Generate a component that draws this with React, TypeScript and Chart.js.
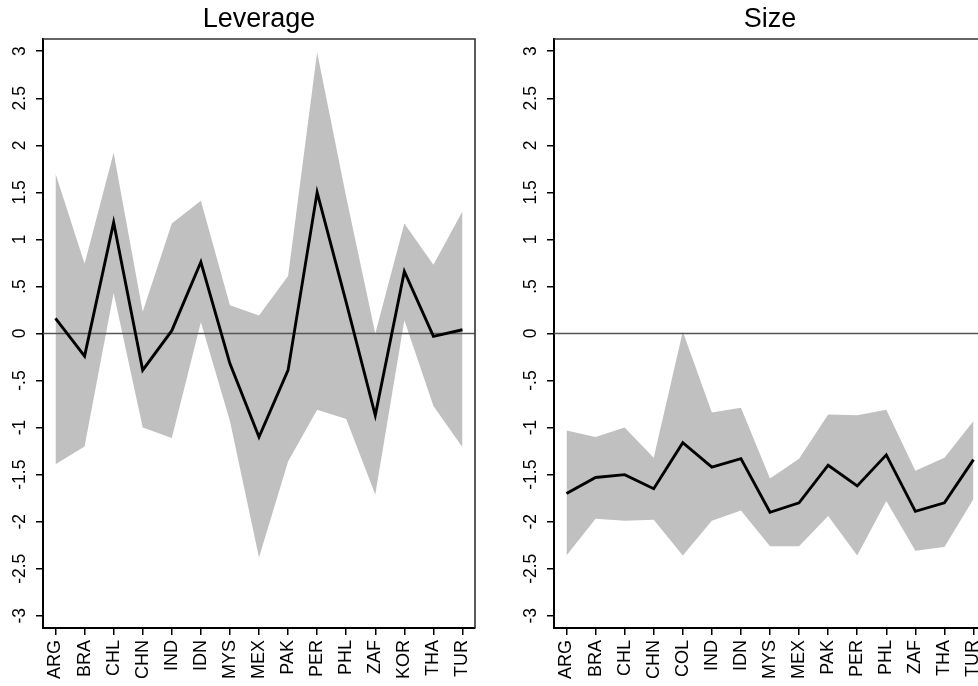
import React, { useEffect, useRef } from "react";
import { Chart, registerables } from "chart.js";

Chart.register(...registerables);

// ---------- data ----------
const levCountries = ["ARG", "BRA", "CHL", "CHN", "IND", "IDN", "MYS", "MEX", "PAK", "PER", "PHL", "ZAF", "KOR", "THA", "TUR"];
const levLine = [0.16, -0.24, 1.18, -0.39, 0.03, 0.76, -0.32, -1.1, -0.39, 1.5, 0.33, -0.87, 0.66, -0.03, 0.04];
const levUpper = [1.7, 0.74, 1.92, 0.23, 1.17, 1.41, 0.3, 0.19, 0.61, 2.99, 1.45, 0.0, 1.17, 0.73, 1.3];
const levLower = [-1.39, -1.2, 0.43, -1.0, -1.11, 0.12, -0.93, -2.38, -1.36, -0.81, -0.91, -1.71, 0.14, -0.77, -1.21];

const sizeCountries = ["ARG", "BRA", "CHL", "CHN", "COL", "IND", "IDN", "MYS", "MEX", "PAK", "PER", "PHL", "ZAF", "THA", "TUR"];
const sizeLine = [-1.7, -1.53, -1.5, -1.65, -1.16, -1.42, -1.33, -1.9, -1.8, -1.4, -1.62, -1.29, -1.89, -1.8, -1.34];
const sizeUpper = [-1.03, -1.1, -1.0, -1.32, 0.02, -0.84, -0.79, -1.54, -1.33, -0.86, -0.87, -0.81, -1.46, -1.32, -0.93];
const sizeLower = [-2.36, -1.97, -1.99, -1.98, -2.36, -1.99, -1.88, -2.26, -2.26, -1.94, -2.36, -1.78, -2.31, -2.27, -1.76];

const yTickValues = [-3, -2.5, -2, -1.5, -1, -0.5, 0, 0.5, 1, 1.5, 2, 2.5, 3];

const FONT = '"Liberation Sans", Arial, Helvetica, sans-serif';

function fmtY(v: number): string {
  if (v === 0) return "0";
  return String(v).replace(/^(-?)0\./, "$1.");
}

const framePlugin = {
  id: "stataFrame",
  beforeDatasetDraw(chart: any, args: any) {
    if (args.index !== 2) return;
    const { ctx, chartArea, scales } = chart;
    const y0 = scales.y.getPixelForValue(0);
    ctx.save();
    ctx.strokeStyle = "#555555";
    ctx.lineWidth = 1.6;
    ctx.beginPath();
    ctx.moveTo(chartArea.left, y0);
    ctx.lineTo(chartArea.right, y0);
    ctx.stroke();
    ctx.restore();
  },
  afterDraw(chart: any) {
    const { ctx, chartArea: a } = chart;
    ctx.save();
    ctx.strokeStyle = "#333333";
    ctx.lineWidth = 1.6;
    ctx.beginPath();
    ctx.moveTo(a.left, a.top);
    ctx.lineTo(a.right, a.top);
    ctx.lineTo(a.right, a.bottom);
    ctx.stroke();
    ctx.restore();
  },
};

function makeConfig(title: string, cats: string[], line: number[], upper: number[], lower: number[]): any {
  const idx = cats.map((_, i) => i);
  const pts = (arr: number[]) => arr.map((v, i) => ({ x: i, y: v }));
  return {
    type: "line",
    data: {
      datasets: [
        {
          data: pts(upper),
          order: 2,
          borderWidth: 0,
          borderColor: "rgba(0,0,0,0)",
          backgroundColor: "rgb(192,192,192)",
          fill: "+1",
          pointRadius: 0,
          tension: 0,
        },
        {
          data: pts(lower),
          order: 1,
          borderWidth: 0,
          borderColor: "rgba(0,0,0,0)",
          backgroundColor: "rgb(192,192,192)",
          fill: false,
          pointRadius: 0,
          tension: 0,
        },
        {
          data: pts(line),
          order: 0,
          borderColor: "#000000",
          borderWidth: 2.9,
          borderJoinStyle: "miter",
          fill: false,
          pointRadius: 0,
          tension: 0,
        },
      ],
    },
    options: {
      animation: false,
      responsive: false,
      maintainAspectRatio: false,
      events: [],
      layout: { padding: { left: 0, right: 15, top: 0, bottom: 0 } },
      plugins: {
        legend: { display: false },
        tooltip: { enabled: false },
        title: {
          display: true,
          text: title,
          fullSize: false,
          color: "#000000",
          font: { family: FONT, size: 27, weight: "normal", lineHeight: 1.2 },
          padding: { top: 3.5, bottom: 3.1 },
        },
      },
      scales: {
        x: {
          type: "linear",
          min: -0.43,
          max: 14.43,
          afterBuildTicks: (s: any) => {
            s.ticks = idx.map((v) => ({ value: v }));
          },
          afterFit: (s: any) => {
            s.height = 58;
          },
          ticks: {
            autoSkip: false,
            minRotation: 90,
            maxRotation: 90,
            padding: 5,
            color: "#000000",
            font: { family: FONT, size: 18 },
            callback: (v: number) => cats[Math.round(v)],
          },
          grid: {
            display: true,
            drawOnChartArea: false,
            drawTicks: true,
            tickLength: 7,
            color: "#000000",
            lineWidth: 1.5,
          },
          border: { display: true, color: "#000000", width: 2 },
        },
        y: {
          type: "linear",
          min: -3.13,
          max: 3.13,
          afterBuildTicks: (s: any) => {
            s.ticks = yTickValues.map((v) => ({ value: v }));
          },
          afterFit: (s: any) => {
            s.width = 43;
          },
          ticks: {
            autoSkip: false,
            minRotation: 90,
            maxRotation: 90,
            crossAlign: "center",
            padding: 1,
            color: "#000000",
            font: { family: FONT, size: 17.5 },
            callback: (v: number) => fmtY(v),
          },
          grid: {
            display: true,
            drawOnChartArea: false,
            drawTicks: true,
            tickLength: 7,
            color: "#000000",
            lineWidth: 1.5,
          },
          border: { display: true, color: "#000000", width: 2 },
        },
      },
    },
    plugins: [framePlugin],
  };
}

function Panel(props: { left: number; title: string; cats: string[]; line: number[]; upper: number[]; lower: number[] }) {
  const ref = useRef<HTMLCanvasElement | null>(null);
  useEffect(() => {
    if (!ref.current) return;
    const chart = new Chart(ref.current, makeConfig(props.title, props.cats, props.line, props.upper, props.lower));
    return () => chart.destroy();
  }, []);
  return (
    <div style={{ position: "absolute", left: props.left, top: 0, width: 490, height: 686 }}>
      <canvas ref={ref} width={490} height={686} style={{ display: "block", width: 490, height: 686 }} />
    </div>
  );
}

export default function App() {
  return (
    <div
      style={{
        position: "fixed",
        left: 0,
        top: 0,
        width: 978,
        height: 686,
        overflow: "hidden",
        background: "#ffffff",
      }}
    >
      <Panel left={0} title="Leverage" cats={levCountries} line={levLine} upper={levUpper} lower={levLower} />
      <Panel left={511} title="Size" cats={sizeCountries} line={sizeLine} upper={sizeUpper} lower={sizeLower} />
    </div>
  );
}
